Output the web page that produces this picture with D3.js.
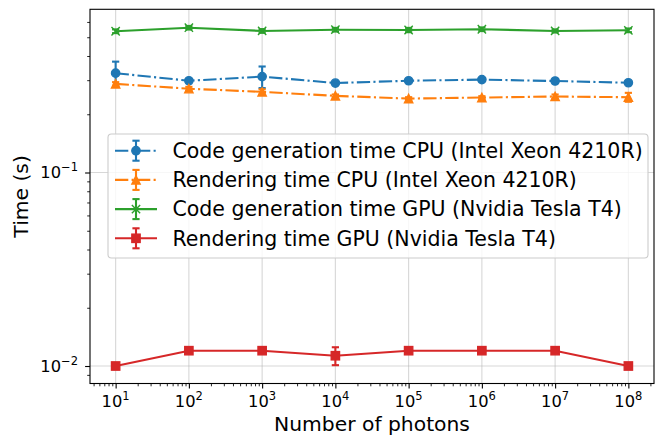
<!DOCTYPE html>
<html>
<head>
<meta charset="utf-8">
<script src="https://cdn.jsdelivr.net/npm/d3@7"></script>
<style>
  body { margin: 0; background: #fff; }
  svg { font-family: "DejaVu Sans", sans-serif; }
</style>
</head>
<body>
<div id="chart"></div>
<script>
// photon counts (x)
const photons = [1e1, 1e2, 1e3, 1e4, 1e5, 1e6, 1e7, 1e8]

// times in seconds
const cpuCode      = [0.326, 0.298, 0.313, 0.290, 0.298, 0.302, 0.297, 0.291]
const cpuCodeErr   = [0.048, 0.004, 0.040, 0.004, 0.004, 0.004, 0.004, 0.004]
const cpuRender    = [0.287, 0.271, 0.261, 0.249, 0.241, 0.244, 0.247, 0.245]
const cpuRenderErr = [0.006, 0.006, 0.008, 0.004, 0.004, 0.004, 0.006, 0.013]
const gpuCode      = [0.537, 0.560, 0.539, 0.547, 0.545, 0.550, 0.539, 0.543]
const gpuCodeErr   = [0.012, 0.012, 0.012, 0.012, 0.014, 0.012, 0.010, 0.012]
const gpuRender    = [0.0100, 0.0120, 0.0120, 0.0113, 0.0120, 0.0120, 0.0120, 0.0100]
const gpuRenderErr = [0, 0, 0, 0.0012, 0, 0, 0, 0]

const seriesNames = [
  "Code generation time CPU (Intel Xeon 4210R)",
  "Rendering time CPU (Intel Xeon 4210R)",
  "Code generation time GPU (Nvidia Tesla T4)",
  "Rendering time GPU (Nvidia Tesla T4)"
]
const xTickExp = [1, 2, 3, 4, 5, 6, 7, 8]
const yTickExp = [-2, -1]

const series = [
  {name: seriesNames[0], vals: cpuCode, errs: cpuCodeErr, color: "#1f77b4", marker: "o", dash: "13.3,3.3,2.1,3.3"},
  {name: seriesNames[1], vals: cpuRender, errs: cpuRenderErr, color: "#ff7f0e", marker: "^", dash: "13.3,3.3,2.1,3.3"},
  {name: seriesNames[2], vals: gpuCode, errs: gpuCodeErr, color: "#2ca02c", marker: "x", dash: null},
  {name: seriesNames[3], vals: gpuRender, errs: gpuRenderErr, color: "#d62728", marker: "s", dash: null}
]

const W = 663, H = 436
const plot = {left: 90, right: 654, top: 9.3, bottom: 383.5}

const svg = d3.select("#chart").append("svg")
  .attr("width", W)
  .attr("height", H)

const x = d3.scaleLog()
  .domain([Math.pow(10, 0.65), Math.pow(10, 8.35)])
  .range([plot.left, plot.right])
const y = d3.scaleLog()
  .domain([Math.pow(10, -2.0904), Math.pow(10, -0.1566)])
  .range([plot.bottom, plot.top])

const xMajor = xTickExp.map(e => Math.pow(10, e))
const yMajor = yTickExp.map(e => Math.pow(10, e))
let xMinor = []
for (let e = 0; e <= 8; e++) for (let k = 2; k <= 9; k++) {
  const v = k * Math.pow(10, e)
  if (v >= x.domain()[0] && v <= x.domain()[1]) xMinor.push(v)
}
let yMinor = []
for (let e = -3; e <= -1; e++) for (let k = 2; k <= 9; k++) {
  const v = k * Math.pow(10, e)
  if (v >= y.domain()[0] && v <= y.domain()[1]) yMinor.push(v)
}

// grid
svg.append("g").selectAll("line.gx")
  .data(xMajor).enter().append("line")
  .attr("x1", d => x(d)).attr("x2", d => x(d))
  .attr("y1", plot.top).attr("y2", plot.bottom)
  .attr("stroke", "#b0b0b0").attr("stroke-opacity", 0.5).attr("stroke-width", 1.1)
svg.append("g").selectAll("line.gy")
  .data(yMajor).enter().append("line")
  .attr("y1", d => y(d)).attr("y2", d => y(d))
  .attr("x1", plot.left).attr("x2", plot.right)
  .attr("stroke", "#b0b0b0").attr("stroke-opacity", 0.5).attr("stroke-width", 1.1)

// axes
function styleAxis(g) {
  g.select(".domain").remove()
  g.selectAll(".tick line").attr("stroke", "#000")
}
svg.append("g")
  .attr("transform", "translate(0," + plot.bottom + ")")
  .call(d3.axisBottom(x).tickValues(xMajor).tickSize(4.9).tickFormat(""))
  .call(styleAxis)
  .selectAll(".tick line").attr("stroke-width", 1.1)
svg.append("g")
  .attr("transform", "translate(0," + plot.bottom + ")")
  .call(d3.axisBottom(x).tickValues(xMinor).tickSize(2.8).tickFormat(""))
  .call(styleAxis)
  .selectAll(".tick line").attr("stroke-width", 0.85)
svg.append("g")
  .attr("transform", "translate(" + plot.left + ",0)")
  .call(d3.axisLeft(y).tickValues(yMajor).tickSize(4.9).tickFormat(""))
  .call(styleAxis)
  .selectAll(".tick line").attr("stroke-width", 1.1)
svg.append("g")
  .attr("transform", "translate(" + plot.left + ",0)")
  .call(d3.axisLeft(y).tickValues(yMinor).tickSize(2.8).tickFormat(""))
  .call(styleAxis)
  .selectAll(".tick line").attr("stroke-width", 0.85)

// tick labels with superscripts
const xl = svg.append("g").selectAll("text")
  .data(xTickExp).enter().append("text")
  .attr("x", d => x(Math.pow(10, d)))
  .attr("y", 407.3)
  .attr("text-anchor", "middle")
  .attr("font-size", 16.3)
  .attr("fill", "#000")
xl.append("tspan").text("10")
xl.append("tspan").attr("dy", -7).attr("font-size", 11.5).text(d => d)

const yl = svg.append("g").selectAll("text")
  .data(yTickExp).enter().append("text")
  .attr("x", 78)
  .attr("y", d => y(Math.pow(10, d)) + 5.8)
  .attr("text-anchor", "end")
  .attr("font-size", 16.3)
  .attr("fill", "#000")
yl.append("tspan").text("10")
yl.append("tspan").attr("dy", -7).attr("font-size", 11.5).text(d => "\u2212" + Math.abs(d))

// axis labels
svg.append("text")
  .attr("x", (plot.left + plot.right) / 2)
  .attr("y", 430.8)
  .attr("text-anchor", "middle")
  .attr("font-size", 20.3)
  .text("Number of photons")
svg.append("text")
  .attr("transform", "translate(28," + ((plot.top + plot.bottom) / 2) + ") rotate(-90)")
  .attr("text-anchor", "middle")
  .attr("font-size", 20.3)
  .text("Time (s)")

// markers
function drawMarker(g, type, color, cx, cy) {
  const s = 4.15
  if (type === "o") {
    g.append("circle").attr("cx", cx).attr("cy", cy).attr("r", s)
      .attr("fill", color).attr("stroke", color).attr("stroke-width", 1.4)
  } else if (type === "^") {
    g.append("path")
      .attr("d", `M${cx},${cy - s}L${cx - s},${cy + s}L${cx + s},${cy + s}Z`)
      .attr("fill", color).attr("stroke", color).attr("stroke-width", 1.4).attr("stroke-linejoin", "miter")
  } else if (type === "s") {
    g.append("rect").attr("x", cx - s).attr("y", cy - s).attr("width", 2 * s).attr("height", 2 * s)
      .attr("fill", color).attr("stroke", color).attr("stroke-width", 1.4)
  } else if (type === "x") {
    g.append("path")
      .attr("d", `M${cx - s},${cy - s}L${cx + s},${cy + s}M${cx - s},${cy + s}L${cx + s},${cy - s}`)
      .attr("stroke", color).attr("stroke-width", 1.4).attr("fill", "none")
  }
}

function drawErr(g, color, cx, y1, y2) {
  const cap = 3.6
  g.append("line").attr("x1", cx).attr("x2", cx).attr("y1", y1).attr("y2", y2)
    .attr("stroke", color).attr("stroke-width", 2.1)
  g.append("line").attr("x1", cx - cap).attr("x2", cx + cap).attr("y1", y1).attr("y2", y1)
    .attr("stroke", color).attr("stroke-width", 2.1)
  g.append("line").attr("x1", cx - cap).attr("x2", cx + cap).attr("y1", y2).attr("y2", y2)
    .attr("stroke", color).attr("stroke-width", 2.1)
}

const line = d3.line().x(d => x(d[0])).y(d => y(d[1]))

series.forEach(s => {
  const g = svg.append("g")
  const pts = photons.map((p, i) => [p, s.vals[i], s.errs[i]])
  pts.forEach(p => {
    if (p[2] > 0) drawErr(g, s.color, x(p[0]), y(p[1] + p[2]), y(p[1] - p[2]))
  })
  g.append("path")
    .attr("d", line(pts))
    .attr("fill", "none")
    .attr("stroke", s.color)
    .attr("stroke-width", 2.1)
    .attr("stroke-dasharray", s.dash)
  pts.forEach(p => drawMarker(g, s.marker, s.color, x(p[0]), y(p[1])))
})

// spines
svg.append("rect")
  .attr("x", plot.left).attr("y", plot.top)
  .attr("width", plot.right - plot.left).attr("height", plot.bottom - plot.top)
  .attr("fill", "none").attr("stroke", "#000").attr("stroke-width", 1.1)

// legend
const leg = svg.append("g")
leg.append("rect")
  .attr("x", 108).attr("y", 134).attr("width", 540).attr("height", 124)
  .attr("rx", 3.5)
  .attr("fill", "#fff").attr("fill-opacity", 0.8)
  .attr("stroke", "#cccccc").attr("stroke-width", 1.1)
series.forEach((s, i) => {
  const cy = 150.7 + i * 29.2
  const g = leg.append("g")
  drawErr(g, s.color, 136, cy - 10, cy + 10)
  g.append("line").attr("x1", 115).attr("x2", 157).attr("y1", cy).attr("y2", cy)
    .attr("stroke", s.color).attr("stroke-width", 2.1).attr("stroke-dasharray", s.dash)
  drawMarker(g, s.marker, s.color, 136, cy)
  g.append("text")
    .attr("x", 172.5).attr("y", cy + 7.2)
    .attr("font-size", 20.5)
    .text(s.name)
})
</script>
</body>
</html>
